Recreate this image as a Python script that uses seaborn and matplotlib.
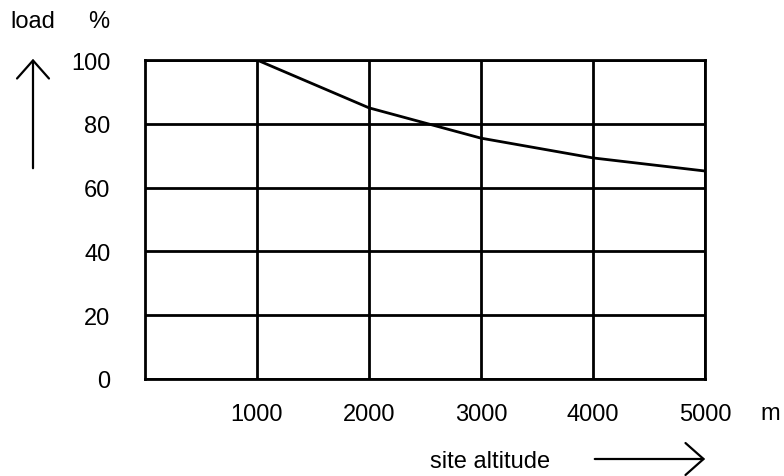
import matplotlib
matplotlib.use("Agg")
import matplotlib.pyplot as plt
import seaborn as sns
import pandas as pd

# --- DATA ---
altitude = [0, 1000, 2000, 3000, 4000, 5000]
load_pct = [100, 100, 85, 75.5, 69.3, 65.2]
x_ticks = [1000, 2000, 3000, 4000, 5000]
y_ticks = [0, 20, 40, 60, 80, 100]

sns.set_style("white")
plt.rcParams["font.family"] = ["Liberation Sans", "DejaVu Sans"]
plt.rcParams["text.color"] = "black"
plt.rcParams["xtick.color"] = "black"
plt.rcParams["ytick.color"] = "black"
FS = 17

df = pd.DataFrame({"altitude": altitude, "load": load_pct})

fig = plt.figure(figsize=(7.84, 4.77), dpi=100)
ax = fig.add_axes([145 / 784, 97 / 477, 560 / 784, 319 / 477])

sns.lineplot(data=df, x="altitude", y="load", color="black", linewidth=2.0, ax=ax, zorder=5)

ax.set_xlim(0, 5000)
ax.set_ylim(0, 100)
ax.set_xticks(x_ticks)
ax.set_yticks(y_ticks)
ax.tick_params(length=0, labelsize=FS, labelcolor="black")
ax.tick_params(axis="x", pad=17)
ax.tick_params(axis="y", pad=25)
ax.grid(True, color="black", linewidth=2.0)
for s in ax.spines.values():
    s.set_color("black")
    s.set_linewidth(2.0)
ax.set_xlabel("")
ax.set_ylabel("")

# axis captions and arrows
fig.text(10 / 784, 1 - 22 / 477, "load", fontsize=FS, va="center", ha="left")
fig.text(88 / 784, 1 - 22 / 477, "%", fontsize=FS, va="center", ha="left")
fig.text(770 / 784, 1 - 414 / 477, "m", fontsize=FS, va="center", ha="center")
fig.text(490 / 784, 1 - 462 / 477, "site altitude", fontsize=FS, va="center", ha="center")
fig.add_artist(matplotlib.patches.FancyArrowPatch(
    (33 / 784, 1 - 172 / 477), (33 / 784, 1 - 57 / 477), transform=fig.transFigure,
    arrowstyle="->,head_length=13,head_width=11.5", color="black", linewidth=1.6))
fig.add_artist(matplotlib.patches.FancyArrowPatch(
    (592 / 784, 1 - 460 / 477), (708 / 784, 1 - 460 / 477), transform=fig.transFigure,
    arrowstyle="->,head_length=13,head_width=11.5", color="black", linewidth=1.6))

fig.savefig("out.png", dpi=100)
